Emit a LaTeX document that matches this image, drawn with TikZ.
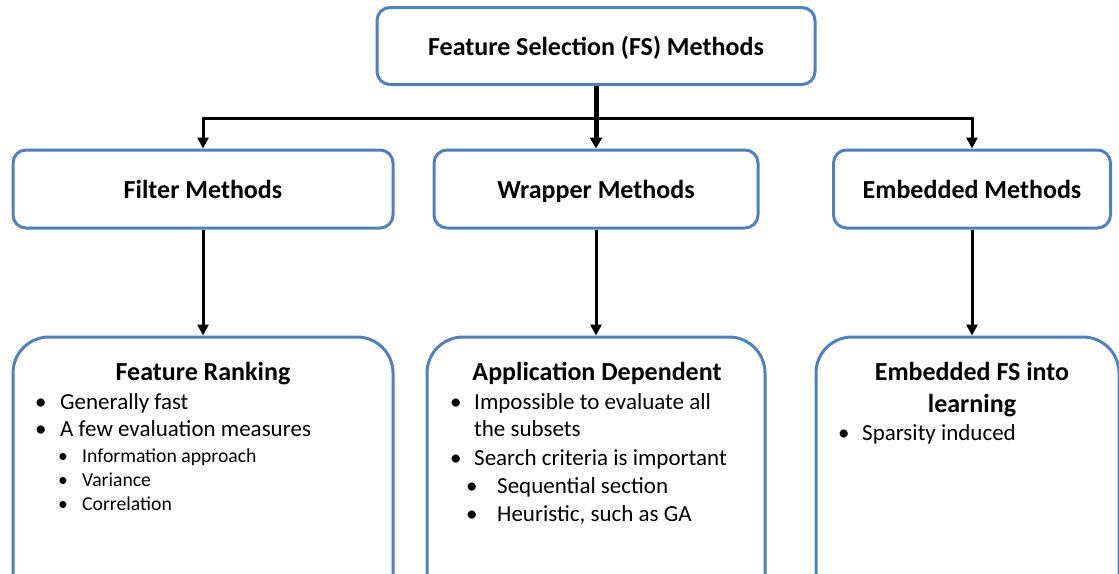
\documentclass[tikz,border=0pt]{standalone}
\usepackage{fontspec}
\setmainfont{Carlito}
\usetikzlibrary{arrows.meta}
\definecolor{boxblue}{RGB}{79,129,189}
\tikzset{
  box/.style={draw=boxblue, line width=3pt, rounded corners=13pt, fill=white, inner sep=0pt},
  bigbox/.style={draw=boxblue, line width=3pt, rounded corners=36pt, fill=white, inner sep=0pt},
  conn/.style={draw=black, line width=3pt, -{Triangle[length=11pt,width=11pt]}},
  mainconn/.style={draw=black, line width=5pt, -{Triangle[length=11pt,width=12pt]}},
  bus/.style={draw=black, line width=3pt},
  head/.style={font=\fontsize{26}{30}\selectfont\bfseries, inner sep=0pt},
  item/.style={font=\fontsize{23}{27}\selectfont, anchor=base west, inner sep=0pt},
  sub/.style={font=\fontsize{19.7}{23}\selectfont, anchor=base west, inner sep=0pt},
}
\begin{document}
\begin{tikzpicture}[x=1pt,y=-1pt]
\path[use as bounding box] (0,0) rectangle (1119,573);
\clip (0,0) rectangle (1119,573);
% top box
\node[box, minimum width=438pt, minimum height=77pt] (top) at (596,46) {};
\node[head, anchor=base] (toptxt) at (596,55) {Feature Selection (FS) Methods};
% middle boxes
\node[box, minimum width=380pt, minimum height=78pt] (filter) at (203,189) {};
\node[head, anchor=base] (filtertxt) at (203,198) {Filter Methods};
\node[box, minimum width=324pt, minimum height=78pt] (wrapper) at (596,189) {};
\node[head, anchor=base] (wrappertxt) at (596,198) {Wrapper Methods};
\node[box, minimum width=277pt, minimum height=78pt] (embedded) at (972,189) {};
\node[head, anchor=base] (embeddedtxt) at (972,198) {Embedded Methods};
% bottom boxes
\node[bigbox, minimum width=380pt, minimum height=300pt] (rank) at (203,487) {};
\node[bigbox, minimum width=338pt, minimum height=300pt] (app) at (596,487) {};
\node[bigbox, minimum width=303pt, minimum height=300pt] (emb) at (967.5,487) {};
% connectors
\coordinate (bus) at (596,118);
\draw[bus] (bus -| filter.north) -- (bus -| embedded.north);
\draw[conn] (bus) -| (filter.north);
\draw[conn] (bus) -| (embedded.north);
\draw[mainconn] (top.south) -- (wrapper.north);
\draw[conn] (filter.south) -- (filter.south |- rank.north);
\draw[conn] (wrapper.south) -- (wrapper.south |- app.north);
\draw[conn] (embedded.south) -- (embedded.south |- emb.north);
% Feature Ranking text
\node[head, anchor=base] (rankh) at (203,380) {Feature Ranking};
\node[item] (rb1) at (35,409) {\textbullet};
\node[item] (r1) at (60,409) {Generally fast};
\node[item] (rb2) at (35,436) {\textbullet};
\node[item] (r2) at (60,436) {A few evaluation measures};
\node[sub] (rb3) at (58,462) {\textbullet};
\node[sub] (r3) at (82,462) {Information approach};
\node[sub] (rb4) at (58,486) {\textbullet};
\node[sub] (r4) at (82,486) {Variance};
\node[sub] (rb5) at (58,510) {\textbullet};
\node[sub] (r5) at (82,510) {Correlation};
% Application Dependent text
\node[head, anchor=base] (apph) at (597,380) {Application Dependent};
\node[item] (ab1) at (450,409) {\textbullet};
\node[item] (a1) at (474,409) {Impossible to evaluate all};
\node[item] (a2) at (474,436) {the subsets};
\node[item] (ab3) at (450,465) {\textbullet};
\node[item] (a3) at (474,465) {Search criteria is important};
\node[item] (ab4) at (466,493) {\textbullet};
\node[item] (a4) at (497,493) {Sequential section};
\node[item] (ab5) at (466,521) {\textbullet};
\node[item] (a5) at (497,521) {Heuristic, such as GA};
% Embedded FS text
\node[head, anchor=base] (embh1) at (972,380) {Embedded FS into};
\node[head, anchor=base] (embh2) at (972,412) {learning};
\node[item] (eb1) at (838,440) {\textbullet};
\node[item] (e1) at (862,440) {Sparsity induced};
\end{tikzpicture}
\end{document}
